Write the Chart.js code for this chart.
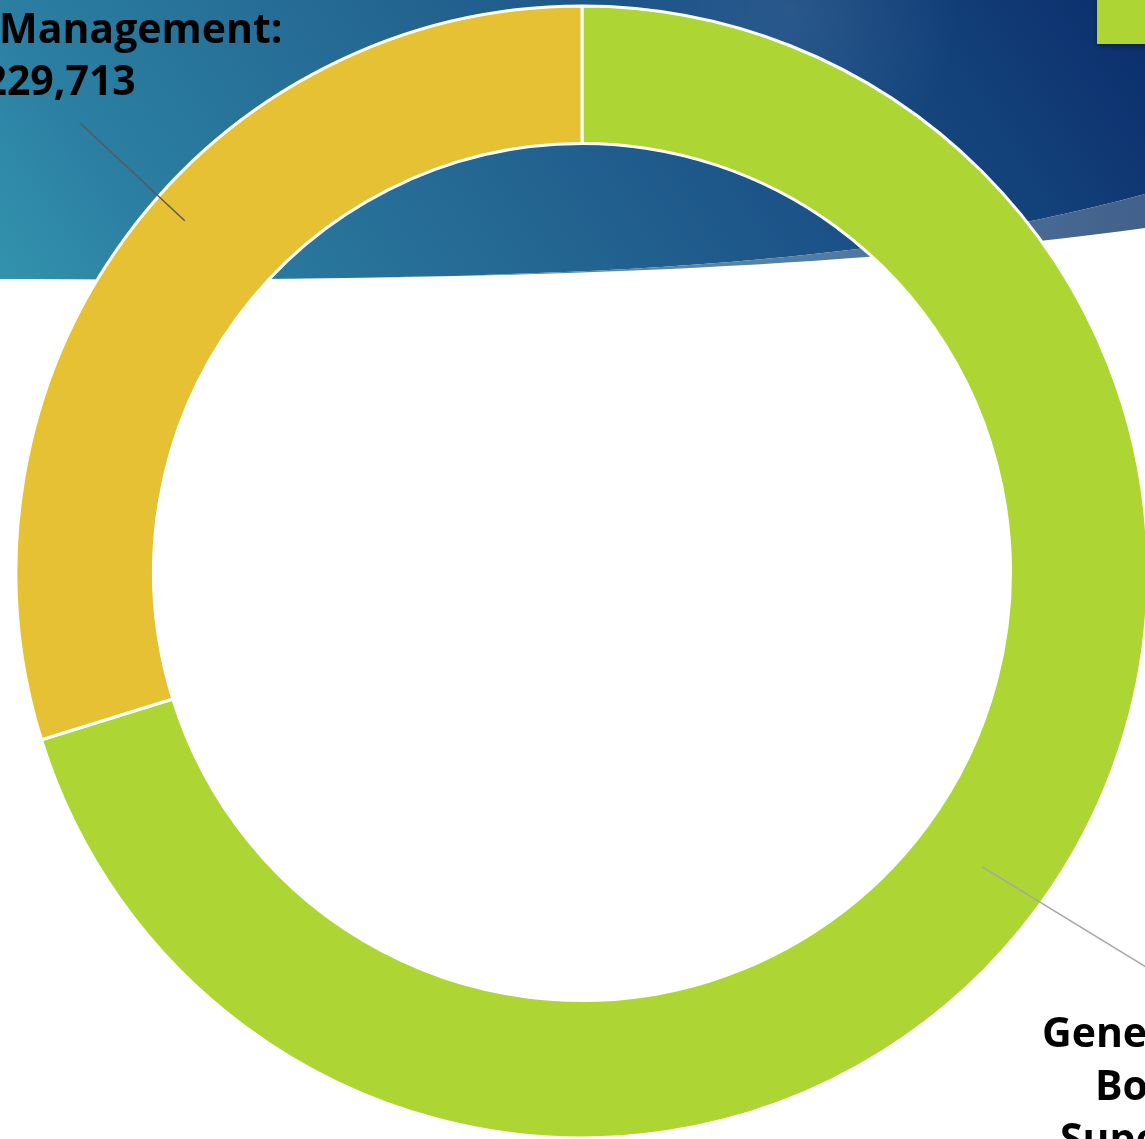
<!DOCTYPE html>
<html>
<head>
<meta charset="utf-8">
<title>Budget doughnut</title>
<script src="https://cdn.jsdelivr.net/npm/chart.js@4.4.1/dist/chart.umd.min.js"></script>
<style>
  html, body { margin: 0; padding: 0; background: #fff; overflow: hidden; }
  #wrap { width: 1145px; height: 1139px; }
</style>
</head>
<body>
<div id="wrap"><canvas id="chartBudget" width="1145" height="1139"></canvas></div>
<script>
/* budget split */
const categories = ["General Board Superintendent", "Management"];
const amounts = [541400, 229713];
const sliceColors = ["#add533", "#e5c133"];

/* label text lines per slice (first line = category, last = amount) */
const labelLines = [
  ["General", "Board", "Superintendent:", "$541,400"],
  ["Management:", "$229,713"],
];

/* slide background: white page, blue swoosh across the top, green accent */
const slideBackground = {
  id: "slideBackground",
  beforeDraw(chart) {
    const { ctx, width } = chart;
    ctx.save();
    ctx.fillStyle = "#ffffff";
    ctx.fillRect(0, 0, width, chart.height);

    // main swoosh
    const g = ctx.createLinearGradient(0, 300, 900, -300);
    g.addColorStop(0, "#3394ae");
    g.addColorStop(0.15, "#2b7fa2");
    g.addColorStop(0.5, "#22618f");
    g.addColorStop(0.7, "#1a4f86");
    g.addColorStop(0.87, "#123f78");
    g.addColorStop(1, "#0d316e");
    ctx.beginPath();
    ctx.moveTo(0, 0);
    ctx.lineTo(width, 0);
    ctx.lineTo(width, 194);
    ctx.bezierCurveTo(850, 275, 500, 281, 0, 279);
    ctx.closePath();
    ctx.fillStyle = g;
    ctx.fill();

    // soft highlight near the top
    const hl = ctx.createRadialGradient(790, 10, 0, 790, 10, 170);
    hl.addColorStop(0, "rgba(255,255,255,0.08)");
    hl.addColorStop(1, "rgba(255,255,255,0)");
    ctx.fillStyle = hl;
    ctx.fill();

    // lighter translucent band under the swoosh
    const bg = ctx.createLinearGradient(700, 0, width, 0);
    bg.addColorStop(0, "#5686ad");
    bg.addColorStop(1, "#42608b");
    ctx.beginPath();
    ctx.moveTo(0, 279);
    ctx.bezierCurveTo(500, 282, 840, 269, width, 228);
    ctx.lineTo(width, 194);
    ctx.bezierCurveTo(850, 275, 500, 281, 0, 279);
    ctx.closePath();
    ctx.fillStyle = bg;
    ctx.fill();

    // green accent square with shadow
    ctx.shadowColor = "rgba(0,0,0,0.45)";
    ctx.shadowBlur = 6;
    ctx.shadowOffsetX = 1;
    ctx.shadowOffsetY = 2;
    ctx.fillStyle = "#add533";
    ctx.fillRect(1097, -10, 60, 54);
    ctx.restore();
  },
};

/* leader lines + data labels, placed by hand like on the slide */
const sliceLabels = {
  id: "sliceLabels",
  afterDraw(chart, args, opts) {
    const { ctx } = chart;
    const arcs = chart.getDatasetMeta(0).data;
    ctx.save();
    opts.items.forEach((item, i) => {
      const arc = arcs[i];
      if (!arc) return;
      const { x, y, startAngle, endAngle, innerRadius, outerRadius } =
        arc.getProps(["x", "y", "startAngle", "endAngle", "innerRadius", "outerRadius"], true);
      const a = (startAngle + endAngle) / 2 + (item.dAngle || 0) * Math.PI / 180;
      const r = (innerRadius + outerRadius) / 2 + (item.dRadius || 0);
      const sx = x + Math.cos(a) * r;
      const sy = y + Math.sin(a) * r;
      ctx.beginPath();
      ctx.moveTo(sx, sy);
      ctx.lineTo(sx + item.lead[0], sy + item.lead[1]);
      ctx.strokeStyle = item.lineColor;
      ctx.lineWidth = 1.5;
      ctx.stroke();

      ctx.fillStyle = "#000";
      ctx.font = "bold 41px 'Open Sans', sans-serif";
      ctx.textAlign = "left";
      ctx.textBaseline = "alphabetic";
      labelLines[i].forEach((line, j) => {
        const pos = item.lines[j];
        if (pos) ctx.fillText(line, pos[0], pos[1]);
      });
    });
    ctx.restore();
  },
};

function drawBudget() {
  const ctx = document.getElementById("chartBudget");
  if (!ctx) return;
  new Chart(ctx, {
    type: "doughnut",
    data: {
      labels: categories,
      datasets: [
        {
          data: amounts,
          backgroundColor: sliceColors,
          borderColor: "#ffffff",
          borderWidth: 3,
        },
      ],
    },
    options: {
      responsive: false,
      animation: false,
      radius: 566,
      cutout: "75.7%",
      layout: { padding: { left: 19, right: 0, top: 5, bottom: 0 } },
      plugins: {
        legend: { display: false },
        tooltip: { enabled: false },
        sliceLabels: {
          items: [
            {
              lineColor: "#a6a6a6",
              lead: [180, 110],
              lines: [[1042, 1047], [1095, 1100], [1060, 1153], [1070, 1206]],
            },
            {
              lineColor: "#595959",
              dAngle: 5.1,
              dRadius: 33,
              lead: [-105, -98],
              lines: [[-1, 43], [-40, 95]],
            },
          ],
        },
      },
    },
    plugins: [slideBackground, sliceLabels],
  });
}

drawBudget();
</script>
</body>
</html>
